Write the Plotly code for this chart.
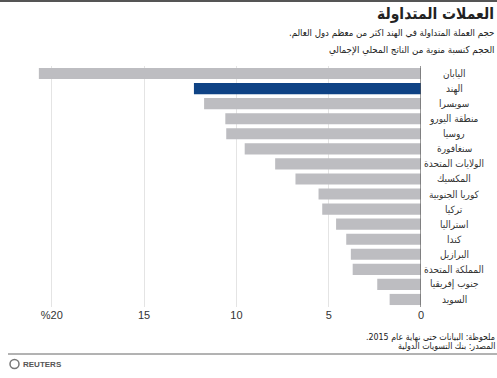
import plotly.graph_objects as go

countries = ["اليابان", "الهند", "سويسرا", "منطقة اليورو", "روسيا", "سنغافورة",
             "الولايات المتحدة", "المكسيك", "كوريا الجنوبية", "تركيا", "استراليا",
             "كندا", "البرازيل", "المملكة المتحدة", "جنوب إفريقيا", "السويد"]
values = [20.7, 12.3, 11.75, 10.6, 10.55, 9.55, 7.9, 6.8, 5.55, 5.35, 4.6,
          4.05, 3.8, 3.7, 2.37, 1.7]
highlight = "الهند"
tick_vals = [0, 5, 10, 15, 20]
tick_text = ["0", "5", "10", "15", "%20"]

title = "العملات المتداولة"
subtitle = "حجم العملة المتداولة في الهند اكثر من معظم دول العالم."
axis_title = "الحجم كنسبة منوية من الناتج المحلي الإجمالي"
note1 = "ملحوظة: البيانات حتى نهاية عام 2015."
note2 = "المصدر: بنك التسويات الدولية"

W, H = 497, 378
L, R, T, B = 30, 421, 66, 307  # plot area in px


def px(x):
    return (x - L) / (R - L)


def py(y):
    return (B - y) / (B - T)


def rtl(s):
    return "\u202b" + s + "\u202c"


FONT = "DejaVu Sans Condensed, DejaVu Sans, sans-serif"
colors = ["#0f4385" if c == highlight else "#bdbdc1" for c in countries]

fig = go.Figure(go.Bar(
    x=values, y=countries, orientation="h",
    marker=dict(color=colors, line=dict(width=0)),
    width=0.74, hoverinfo="skip",
))


def right_text(text, xr, yc, size, bold=False, color="#222222"):
    t = rtl(text)
    if bold:
        t = "<b>" + t + "</b>"
    return dict(x=px(xr), y=py(yc), xref="paper", yref="paper", text=t,
                showarrow=False, xanchor="right", yanchor="middle", align="right",
                borderpad=0, borderwidth=0,
                font=dict(size=size, color=color, family=FONT))


annotations = []
for c in countries:
    annotations.append(dict(x=px(454), y=c, xref="paper", yref="y", text=rtl(c),
                            showarrow=False, xanchor="center", yanchor="middle",
                            font=dict(size=10, color="#333333", family=FONT)))
annotations += [
    right_text(title, 494, 14, 15.5, bold=True),
    right_text(subtitle, 494, 33, 9.6),
    right_text(axis_title, 494, 50, 9.7),
    right_text(note1, 495, 337, 8.8),
    right_text(note2, 495, 346, 8.8),
    dict(x=px(21), y=py(364), xref="paper", yref="paper", text="<b>REUTERS</b>",
         showarrow=False, xanchor="left", yanchor="middle",
         font=dict(size=8, color="#555555", family="Arial")),
]

shapes = [
    dict(type="line", xref="paper", yref="paper", x0=px(0), x1=px(497),
         y0=py(1), y1=py(1), line=dict(color="#555555", width=2)),
    dict(type="line", xref="paper", yref="paper", x0=px(8), x1=px(497),
         y0=py(354), y1=py(354), line=dict(color="#666666", width=1)),
    dict(type="circle", xref="paper", yref="paper", x0=px(10), x1=px(19),
         y0=py(368.5), y1=py(359.5), line=dict(color="#777777", width=1.5),
         fillcolor="#ffffff"),
    dict(type="line", xref="x", yref="paper", x0=0, x1=0, y0=0, y1=1,
         line=dict(color="#555555", width=1.2)),
]

fig.update_layout(
    width=W, height=H,
    margin=dict(l=L, r=W - R, t=T, b=H - B, pad=0),
    paper_bgcolor="white", plot_bgcolor="white",
    showlegend=False,
    font=dict(family="Arial", color="#222222"),
    xaxis=dict(range=[21.18, 0], tickvals=tick_vals, ticktext=tick_text,
               showgrid=True, gridcolor="#e4e4e4", gridwidth=1,
               zeroline=False, showline=False, ticks="",
               tickfont=dict(size=11, color="#333333", family="Arial Black, Arial"),
               fixedrange=True),
    yaxis=dict(type="category", range=[15.5, -0.5], showticklabels=False,
               showgrid=False, zeroline=False, showline=False, ticks="",
               fixedrange=True),
    annotations=annotations,
    shapes=shapes,
)

fig.write_html("out.html", config={"displayModeBar": False},
               post_script="document.body.style.margin='0';document.body.style.overflow='hidden';")
